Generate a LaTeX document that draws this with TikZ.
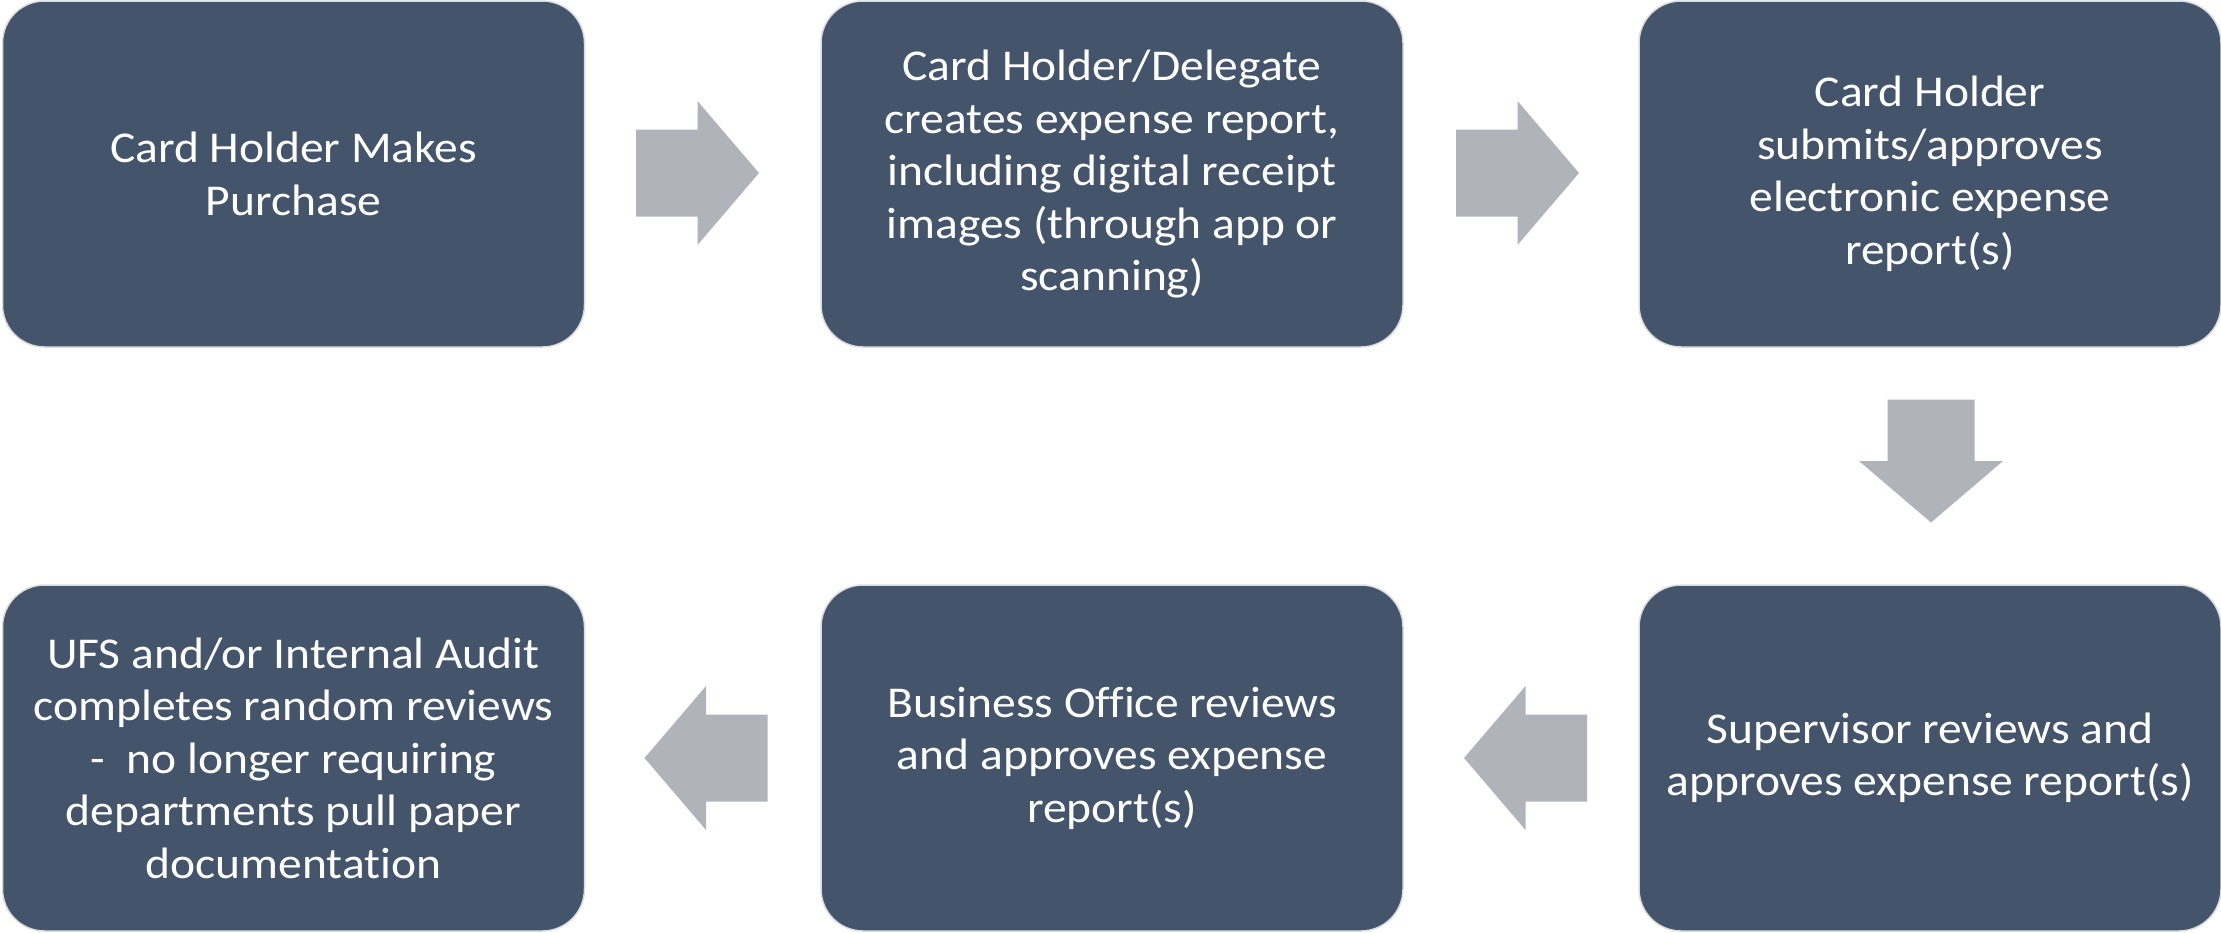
\documentclass[tikz,border=0pt]{standalone}
\usepackage{fontspec}
\setmainfont{Carlito}[FakeStretch=1.08,Ligatures=NoCommon]
\definecolor{boxfill}{HTML}{44546A}
\definecolor{boxline}{HTML}{DADCE0}
\definecolor{arrowfill}{HTML}{B0B3BA}
\begin{document}
\begin{tikzpicture}[x=1pt,y=-1pt,
  stepbox/.style={rectangle, rounded corners=42pt, fill=boxfill, draw=boxline, line width=1.5pt,
    minimum width=582pt, minimum height=346pt, inner sep=0pt, align=center, text=white,
    font=\fontsize{44}{52.5}\selectfont},
  blockarrow/.pic={\fill[arrowfill] (-61.5,-43.5) -- (0,-43.5) -- (0,-72) -- (61.5,0) -- (0,72) -- (0,43.5) -- (-61.5,43.5) -- cycle;}
]
\useasboundingbox (0,0) rectangle (2221,932);
\node[stepbox] (b1) at (293.5,174) {Card Holder Makes\\Purchase};
\node[stepbox] (b2) at (1112,174) {Card Holder/Delegate\\creates expense report,\\including digital receipt\\images (through app or\\scanning)};
\node[stepbox] (b3) at (1930,174) {Card Holder\\submits/approves\\electronic expense\\report(s)};
\node[stepbox] (b6) at (1930,758) {Supervisor reviews and\\approves expense report(s)};
\node[stepbox] (b5) at (1112,758) {Business Office reviews\\and approves expense\\report(s)};
\node[stepbox] (b4) at (293.5,758) {UFS and/or Internal Audit\\completes random reviews\\-~~no longer requiring\\departments pull paper\\documentation};
\pic at (697.5,173) {blockarrow};
\pic at (1517.5,173) {blockarrow};
\pic[rotate=-90] at (1931,461) {blockarrow};
\pic[rotate=180] at (1525.5,758) {blockarrow};
\pic[rotate=180] at (706,758) {blockarrow};
\end{tikzpicture}
\end{document}
